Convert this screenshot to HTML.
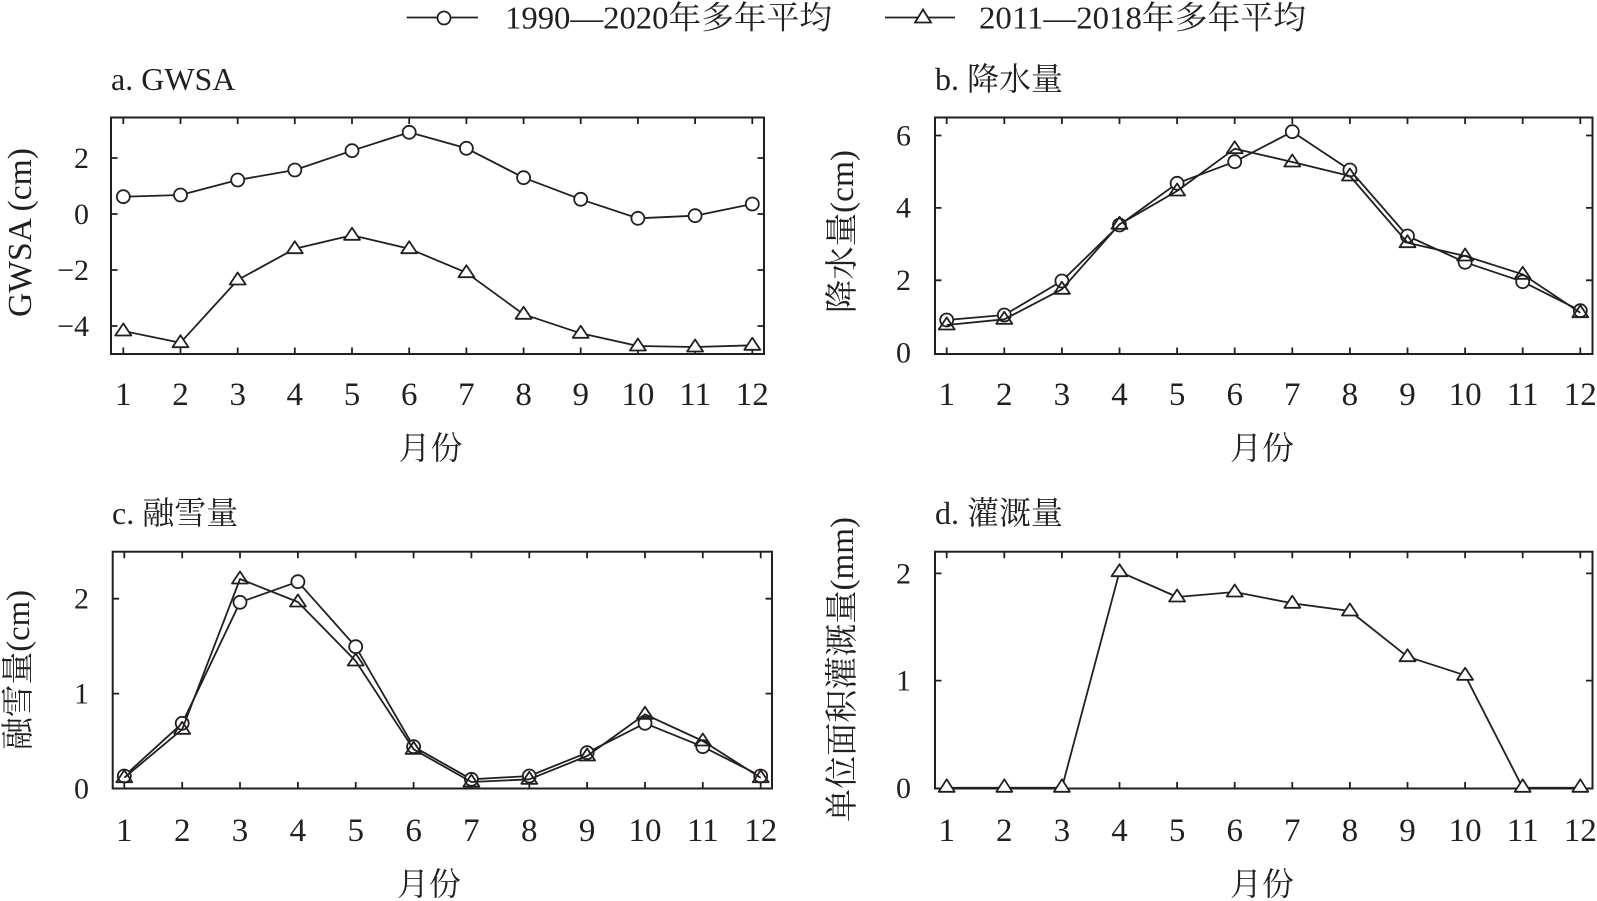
<!DOCTYPE html>
<html>
<head>
<meta charset="utf-8">
<style>
html,body{margin:0;padding:0;background:#fff;}
svg{display:block;}
text{font-family:"Liberation Serif","Noto Serif CJK SC",serif;fill:#231f20;}
</style>
</head>
<body>
<svg width="1597" height="901" viewBox="0 0 1597 901" xmlns="http://www.w3.org/2000/svg">
<rect width="1597" height="901" fill="#fff"/>

<!-- Legend -->
<g stroke="#231f20" stroke-width="1.8" fill="#fff">
  <line x1="406.7" y1="17.5" x2="478" y2="17.5"/>
  <circle cx="444" cy="18" r="6.5"/>
  <line x1="885" y1="17.5" x2="955" y2="17.5"/>
  <polygon points="923,9.5 915,22.5 931,22.5"/>
</g>
<text x="505" y="28.5" font-size="32" textLength="327" lengthAdjust="spacingAndGlyphs">1990—2020年多年平均</text>
<text x="979" y="28.5" font-size="32" textLength="327" lengthAdjust="spacingAndGlyphs">2011—2018年多年平均</text>

<!-- Titles -->
<text x="111" y="90" font-size="32">a. GWSA</text>
<text x="935" y="90" font-size="32">b. 降水量</text>
<text x="112" y="524" font-size="32">c. 融雪量</text>
<text x="935" y="524" font-size="32">d. 灌溉量</text>

<!-- Y axis labels -->
<text transform="translate(31,232.5) rotate(-90)" font-size="34" text-anchor="middle" textLength="169" lengthAdjust="spacingAndGlyphs">GWSA (cm)</text>
<text transform="translate(853,231.5) rotate(-90)" font-size="33" text-anchor="middle" textLength="163" lengthAdjust="spacingAndGlyphs">降水量(cm)</text>
<text transform="translate(29,670) rotate(-90)" font-size="33" text-anchor="middle" textLength="160" lengthAdjust="spacingAndGlyphs">融雪量(cm)</text>
<text transform="translate(853,669.5) rotate(-90)" font-size="33" text-anchor="middle" textLength="305" lengthAdjust="spacingAndGlyphs">单位面积灌溉量(mm)</text>

<!-- X axis labels -->
<text x="430.5" y="459" font-size="32" text-anchor="middle">月份</text>
<text x="1262" y="459" font-size="32" text-anchor="middle">月份</text>
<text x="429" y="895" font-size="32" text-anchor="middle">月份</text>
<text x="1262" y="895" font-size="32" text-anchor="middle">月份</text>

<!-- Frames -->
<g fill="none" stroke="#231f20" stroke-width="2">
  <rect x="111" y="117.5" width="653" height="236.5"/>
  <rect x="935" y="117.5" width="657.5" height="236.5"/>
  <rect x="112.7" y="551.7" width="659.3" height="236.8"/>
  <rect x="935" y="551.7" width="657.5" height="236.8"/>
</g>

<!-- Ticks -->
<g fill="none" stroke="#231f20" stroke-width="1.8">
  <!-- panel a -->
  <path d="M123.3 117.5v6.5M180.5 117.5v6.5M237.7 117.5v6.5M294.8 117.5v6.5M352 117.5v6.5M409.2 117.5v6.5M466.4 117.5v6.5M523.6 117.5v6.5M580.7 117.5v6.5M637.9 117.5v6.5M695.1 117.5v6.5M752.3 117.5v6.5
  M123.3 354v-6.5M180.5 354v-6.5M237.7 354v-6.5M294.8 354v-6.5M352 354v-6.5M409.2 354v-6.5M466.4 354v-6.5M523.6 354v-6.5M580.7 354v-6.5M637.9 354v-6.5M695.1 354v-6.5M752.3 354v-6.5
  M111 158h6.5M111 214h6.5M111 270h6.5M111 326h6.5M764 158h-6.5M764 214h-6.5M764 270h-6.5M764 326h-6.5"/>
  <!-- panel b -->
  <path d="M946.7 117.5v6.5M1004.3 117.5v6.5M1061.9 117.5v6.5M1119.5 117.5v6.5M1177.1 117.5v6.5M1234.7 117.5v6.5M1292.3 117.5v6.5M1349.9 117.5v6.5M1407.5 117.5v6.5M1465.1 117.5v6.5M1522.7 117.5v6.5M1580.3 117.5v6.5
  M946.7 354v-6.5M1004.3 354v-6.5M1061.9 354v-6.5M1119.5 354v-6.5M1177.1 354v-6.5M1234.7 354v-6.5M1292.3 354v-6.5M1349.9 354v-6.5M1407.5 354v-6.5M1465.1 354v-6.5M1522.7 354v-6.5M1580.3 354v-6.5
  M935 280.3h6.5M935 207.9h6.5M935 135.5h6.5M1592.5 280.3h-6.5M1592.5 207.9h-6.5M1592.5 135.5h-6.5"/>
  <!-- panel c -->
  <path d="M124.3 551.7v6.5M182.2 551.7v6.5M240 551.7v6.5M297.9 551.7v6.5M355.7 551.7v6.5M413.6 551.7v6.5M471.4 551.7v6.5M529.3 551.7v6.5M587.1 551.7v6.5M645 551.7v6.5M702.8 551.7v6.5M760.7 551.7v6.5
  M124.3 788.5v-6.5M182.2 788.5v-6.5M240 788.5v-6.5M297.9 788.5v-6.5M355.7 788.5v-6.5M413.6 788.5v-6.5M471.4 788.5v-6.5M529.3 788.5v-6.5M587.1 788.5v-6.5M645 788.5v-6.5M702.8 788.5v-6.5M760.7 788.5v-6.5
  M112.7 693.6h6.5M112.7 598.7h6.5M772 693.6h-6.5M772 598.7h-6.5"/>
  <!-- panel d -->
  <path d="M946.7 551.7v6.5M1004.3 551.7v6.5M1061.9 551.7v6.5M1119.5 551.7v6.5M1177.1 551.7v6.5M1234.7 551.7v6.5M1292.3 551.7v6.5M1349.9 551.7v6.5M1407.5 551.7v6.5M1465.1 551.7v6.5M1522.7 551.7v6.5M1580.3 551.7v6.5
  M946.7 788.5v-6.5M1004.3 788.5v-6.5M1061.9 788.5v-6.5M1119.5 788.5v-6.5M1177.1 788.5v-6.5M1234.7 788.5v-6.5M1292.3 788.5v-6.5M1349.9 788.5v-6.5M1407.5 788.5v-6.5M1465.1 788.5v-6.5M1522.7 788.5v-6.5M1580.3 788.5v-6.5
  M935 680.6h6.5M935 573.4h6.5M1592.5 680.6h-6.5M1592.5 573.4h-6.5"/>
</g>

<!-- Tick labels -->
<g font-size="30" text-anchor="end">
  <text x="89" y="168">2</text>
  <text x="89" y="224">0</text>
  <text x="89" y="280">−2</text>
  <text x="89" y="336">−4</text>
  <text x="911" y="362.5">0</text>
  <text x="911" y="290">2</text>
  <text x="911" y="217.5">4</text>
  <text x="911" y="145.5">6</text>
  <text x="89" y="798.5">0</text>
  <text x="89" y="703.5">1</text>
  <text x="89" y="608.5">2</text>
  <text x="911" y="797.8">0</text>
  <text x="911" y="690.5">1</text>
  <text x="911" y="583.3">2</text>
</g>
<g font-size="33" text-anchor="middle">
  <text x="123.3" y="405">1</text><text x="180.5" y="405">2</text><text x="237.7" y="405">3</text><text x="294.8" y="405">4</text><text x="352" y="405">5</text><text x="409.2" y="405">6</text><text x="466.4" y="405">7</text><text x="523.6" y="405">8</text><text x="580.7" y="405">9</text><text x="637.9" y="405">10</text><text x="695.1" y="405">11</text><text x="752.3" y="405">12</text>
  <text x="946.7" y="405">1</text><text x="1004.3" y="405">2</text><text x="1061.9" y="405">3</text><text x="1119.5" y="405">4</text><text x="1177.1" y="405">5</text><text x="1234.7" y="405">6</text><text x="1292.3" y="405">7</text><text x="1349.9" y="405">8</text><text x="1407.5" y="405">9</text><text x="1465.1" y="405">10</text><text x="1522.7" y="405">11</text><text x="1580.3" y="405">12</text>
  <text x="124.3" y="841">1</text><text x="182.2" y="841">2</text><text x="240" y="841">3</text><text x="297.9" y="841">4</text><text x="355.7" y="841">5</text><text x="413.6" y="841">6</text><text x="471.4" y="841">7</text><text x="529.3" y="841">8</text><text x="587.1" y="841">9</text><text x="645" y="841">10</text><text x="702.8" y="841">11</text><text x="760.7" y="841">12</text>
  <text x="946.7" y="841">1</text><text x="1004.3" y="841">2</text><text x="1061.9" y="841">3</text><text x="1119.5" y="841">4</text><text x="1177.1" y="841">5</text><text x="1234.7" y="841">6</text><text x="1292.3" y="841">7</text><text x="1349.9" y="841">8</text><text x="1407.5" y="841">9</text><text x="1465.1" y="841">10</text><text x="1522.7" y="841">11</text><text x="1580.3" y="841">12</text>
</g>

<!-- Series -->
<g fill="none" stroke="#231f20" stroke-width="1.8" stroke-linejoin="round">
  <!-- Panel a -->
  <polyline points="123.3,196.7 180.5,195 237.7,180 294.8,170 352,150.7 409.2,132.3 466.4,148.3 523.6,177.7 580.7,199.3 637.9,218.3 695.1,215.7 752.3,204"/>
  <g fill="#fff">
    <circle cx="123.3" cy="196.7" r="6.5"/><circle cx="180.5" cy="195" r="6.5"/><circle cx="237.7" cy="180" r="6.5"/><circle cx="294.8" cy="170" r="6.5"/><circle cx="352" cy="150.7" r="6.5"/><circle cx="409.2" cy="132.3" r="6.5"/><circle cx="466.4" cy="148.3" r="6.5"/><circle cx="523.6" cy="177.7" r="6.5"/><circle cx="580.7" cy="199.3" r="6.5"/><circle cx="637.9" cy="218.3" r="6.5"/><circle cx="695.1" cy="215.7" r="6.5"/><circle cx="752.3" cy="204" r="6.5"/>
  </g>
  <polyline points="123.3,331 180.5,342.7 237.7,280 294.8,248.7 352,235.3 409.2,248.7 466.4,272.7 523.6,314.3 580.7,333.3 637.9,346 695.1,347 752.3,345.3"/>
  <g fill="#fff">
    <polygon transform="translate(123.3,331)" points="0,-7.5 -8,4.5 8,4.5"/>
    <polygon transform="translate(180.5,342.7)" points="0,-7.5 -8,4.5 8,4.5"/>
    <polygon transform="translate(237.7,280)" points="0,-7.5 -8,4.5 8,4.5"/>
    <polygon transform="translate(294.8,248.7)" points="0,-7.5 -8,4.5 8,4.5"/>
    <polygon transform="translate(352,235.3)" points="0,-7.5 -8,4.5 8,4.5"/>
    <polygon transform="translate(409.2,248.7)" points="0,-7.5 -8,4.5 8,4.5"/>
    <polygon transform="translate(466.4,272.7)" points="0,-7.5 -8,4.5 8,4.5"/>
    <polygon transform="translate(523.6,314.3)" points="0,-7.5 -8,4.5 8,4.5"/>
    <polygon transform="translate(580.7,333.3)" points="0,-7.5 -8,4.5 8,4.5"/>
    <polygon transform="translate(637.9,346)" points="0,-7.5 -8,4.5 8,4.5"/>
    <polygon transform="translate(695.1,347)" points="0,-7.5 -8,4.5 8,4.5"/>
    <polygon transform="translate(752.3,345.3)" points="0,-7.5 -8,4.5 8,4.5"/>
  </g>

  <!-- Panel b -->
  <polyline points="946.7,320 1004.3,315 1061.9,281 1119.5,225 1177.1,183.3 1234.7,161.7 1292.3,131.7 1349.9,170 1407.5,236 1465.1,262.3 1522.7,281.7 1580.3,310.7"/>
  <g fill="#fff">
    <circle cx="946.7" cy="320" r="6.5"/><circle cx="1004.3" cy="315" r="6.5"/><circle cx="1061.9" cy="281" r="6.5"/><circle cx="1119.5" cy="225" r="6.5"/><circle cx="1177.1" cy="183.3" r="6.5"/><circle cx="1234.7" cy="161.7" r="6.5"/><circle cx="1292.3" cy="131.7" r="6.5"/><circle cx="1349.9" cy="170" r="6.5"/><circle cx="1407.5" cy="236" r="6.5"/><circle cx="1465.1" cy="262.3" r="6.5"/><circle cx="1522.7" cy="281.7" r="6.5"/><circle cx="1580.3" cy="310.7" r="6.5"/>
  </g>
  <polyline points="946.7,325 1004.3,319.3 1061.9,289.3 1119.5,224.3 1177.1,191 1234.7,148.7 1292.3,162 1349.9,176 1407.5,242.7 1465.1,256 1522.7,274.3 1580.3,312.7"/>
  <g fill="none">
    <polygon transform="translate(946.7,325)" points="0,-7.5 -8,4.5 8,4.5"/>
    <polygon transform="translate(1004.3,319.3)" points="0,-7.5 -8,4.5 8,4.5"/>
    <polygon transform="translate(1061.9,289.3)" points="0,-7.5 -8,4.5 8,4.5"/>
    <polygon transform="translate(1119.5,224.3)" points="0,-7.5 -8,4.5 8,4.5"/>
    <polygon transform="translate(1177.1,191)" points="0,-7.5 -8,4.5 8,4.5"/>
    <polygon transform="translate(1234.7,148.7)" points="0,-7.5 -8,4.5 8,4.5"/>
    <polygon transform="translate(1292.3,162)" points="0,-7.5 -8,4.5 8,4.5"/>
    <polygon transform="translate(1349.9,176)" points="0,-7.5 -8,4.5 8,4.5"/>
    <polygon transform="translate(1407.5,242.7)" points="0,-7.5 -8,4.5 8,4.5"/>
    <polygon transform="translate(1465.1,256)" points="0,-7.5 -8,4.5 8,4.5"/>
    <polygon transform="translate(1522.7,274.3)" points="0,-7.5 -8,4.5 8,4.5"/>
    <polygon transform="translate(1580.3,312.7)" points="0,-7.5 -8,4.5 8,4.5"/>
  </g>

  <!-- Panel c -->
  <polyline points="124.3,776 182.2,723.3 240,602.3 297.9,581.7 355.7,646.7 413.6,746.7 471.4,779.3 529.3,776 587.1,752.7 645,723.3 702.8,746.7 760.7,776"/>
  <g fill="#fff">
    <circle cx="124.3" cy="776" r="6.5"/><circle cx="182.2" cy="723.3" r="6.5"/><circle cx="240" cy="602.3" r="6.5"/><circle cx="297.9" cy="581.7" r="6.5"/><circle cx="355.7" cy="646.7" r="6.5"/><circle cx="413.6" cy="746.7" r="6.5"/><circle cx="471.4" cy="779.3" r="6.5"/><circle cx="529.3" cy="776" r="6.5"/><circle cx="587.1" cy="752.7" r="6.5"/><circle cx="645" cy="723.3" r="6.5"/><circle cx="702.8" cy="746.7" r="6.5"/><circle cx="760.7" cy="776" r="6.5"/>
  </g>
  <polyline points="124.3,777.7 182.2,729.3 240,579 297.9,602 355.7,661 413.6,749.3 471.4,782 529.3,779.3 587.1,756 645,714.3 702.8,741 760.7,777.7"/>
  <g fill="none">
    <polygon transform="translate(124.3,777.7)" points="0,-7.5 -8,4.5 8,4.5"/>
    <polygon transform="translate(182.2,729.3)" points="0,-7.5 -8,4.5 8,4.5"/>
    <polygon transform="translate(240,579)" points="0,-7.5 -8,4.5 8,4.5"/>
    <polygon transform="translate(297.9,602)" points="0,-7.5 -8,4.5 8,4.5"/>
    <polygon transform="translate(355.7,661)" points="0,-7.5 -8,4.5 8,4.5"/>
    <polygon transform="translate(413.6,749.3)" points="0,-7.5 -8,4.5 8,4.5"/>
    <polygon transform="translate(471.4,782)" points="0,-7.5 -8,4.5 8,4.5"/>
    <polygon transform="translate(529.3,779.3)" points="0,-7.5 -8,4.5 8,4.5"/>
    <polygon transform="translate(587.1,756)" points="0,-7.5 -8,4.5 8,4.5"/>
    <polygon transform="translate(645,714.3)" points="0,-7.5 -8,4.5 8,4.5"/>
    <polygon transform="translate(702.8,741)" points="0,-7.5 -8,4.5 8,4.5"/>
    <polygon transform="translate(760.7,777.7)" points="0,-7.5 -8,4.5 8,4.5"/>
  </g>

  <!-- Panel d -->
  <polyline points="946.7,787.8 1004.3,787.8 1061.9,787.8 1119.5,571.7 1177.1,597 1234.7,592 1292.3,603.3 1349.9,611 1407.5,656.7 1465.1,675.3 1522.7,787.8 1580.3,787.8"/>
  <g fill="#fff">
    <polygon transform="translate(946.7,787.8)" points="0,-8.5 -8,4 8,4"/>
    <polygon transform="translate(1004.3,787.8)" points="0,-8.5 -8,4 8,4"/>
    <polygon transform="translate(1061.9,787.8)" points="0,-8.5 -8,4 8,4"/>
    <polygon transform="translate(1119.5,571.7)" points="0,-7.5 -8,4.5 8,4.5"/>
    <polygon transform="translate(1177.1,597)" points="0,-7.5 -8,4.5 8,4.5"/>
    <polygon transform="translate(1234.7,592)" points="0,-7.5 -8,4.5 8,4.5"/>
    <polygon transform="translate(1292.3,603.3)" points="0,-7.5 -8,4.5 8,4.5"/>
    <polygon transform="translate(1349.9,611)" points="0,-7.5 -8,4.5 8,4.5"/>
    <polygon transform="translate(1407.5,656.7)" points="0,-7.5 -8,4.5 8,4.5"/>
    <polygon transform="translate(1465.1,675.3)" points="0,-7.5 -8,4.5 8,4.5"/>
    <polygon transform="translate(1522.7,787.8)" points="0,-8.5 -8,4 8,4"/>
    <polygon transform="translate(1580.3,787.8)" points="0,-8.5 -8,4 8,4"/>
  </g>
</g>
</svg>
</body>
</html>
